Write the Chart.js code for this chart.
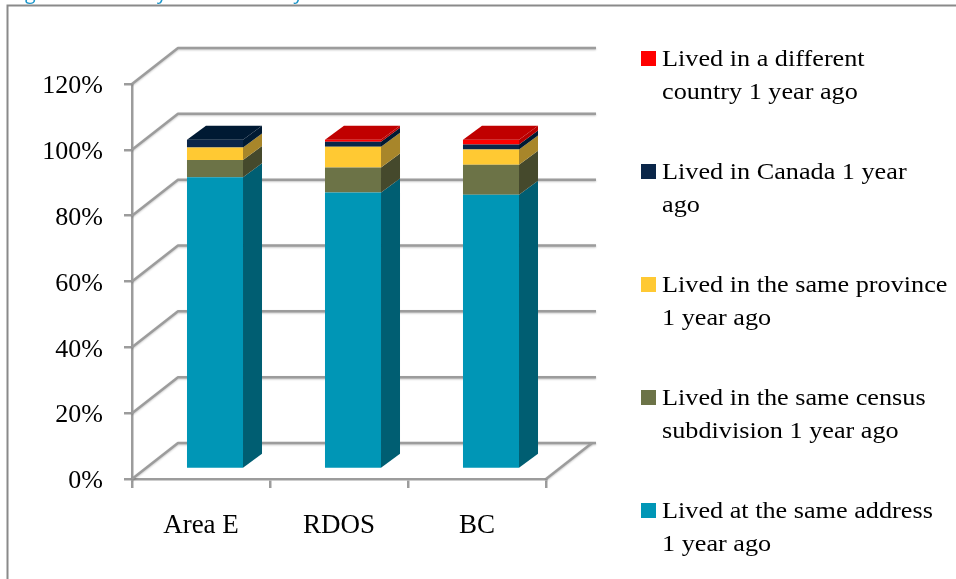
<!DOCTYPE html>
<html>
<head>
<meta charset="utf-8">
<script src="https://cdn.jsdelivr.net/npm/chart.js@4.4.1/dist/chart.umd.min.js"></script>
<style>
  html, body { margin: 0; padding: 0; background: #ffffff; }
  #wrap { width: 956px; height: 579px; position: relative; }
</style>
</head>
<body>
<div id="wrap"><canvas id="chart"></canvas></div>
<script>
// Mobility status one year earlier, share of population (%)
const categories = ['Area E', 'RDOS', 'BC'];
const sameAddress      = [88.6, 84.0, 83.3];
const sameSubdivision  = [5.3, 7.6, 9.1];
const sameProvince     = [3.8, 6.3, 4.7];
const inCanada         = [2.3, 1.5, 1.5];
const differentCountry = [0.0, 0.6, 1.4];
const yTickValues = [0, 20, 40, 60, 80, 100, 120];

const titleText = 'Figure 8: Mobility Status \u2013 Past year';

// series drawn bottom to top; legend lists them top to bottom
const series = [
  { lines: ['Lived at the same address', '1 year ago'], data: sameAddress,
    front: '#0096b6', side: '#005e72', top: '#00788f' },
  { lines: ['Lived in the same census', 'subdivision 1 year ago'], data: sameSubdivision,
    front: '#6c7347', side: '#45492c', top: '#555a37' },
  { lines: ['Lived in the same province', '1 year ago'], data: sameProvince,
    front: '#ffc933', side: '#a8862a', top: '#d6a82c' },
  { lines: ['Lived in Canada 1 year', 'ago'], data: inCanada,
    front: '#0a2649', side: '#001a33', top: '#001a33' },
  { lines: ['Lived in a different', 'country 1 year ago'], data: differentCountry,
    front: '#ff0000', side: '#b80000', top: '#c00000' }
];

const WALL_DX = 46, WALL_DY = -36;   // depth of the back wall
const BAR_DX = 14, BAR_DY = -10;     // bars sit a little behind the front plane
const BAR_DEPTH_X = 19, BAR_DEPTH_Y = -14;
const GRID_COLOR = '#9c9c9c';

const box3d = {
  id: 'box3d',
  beforeDatasetsDraw(chart) {
    const ctx = chart.ctx, a = chart.chartArea, ys = chart.scales.y;
    ctx.save();
    ctx.strokeStyle = GRID_COLOR;
    ctx.lineWidth = 2.5;
    ctx.lineJoin = 'round';
    ctx.shadowColor = 'rgba(0,0,0,0.22)';
    ctx.shadowBlur = 2;
    ctx.shadowOffsetY = 1;
    yTickValues.forEach(v => {
      const y = ys.getPixelForValue(v);
      ctx.beginPath();
      ctx.moveTo(a.left, y);
      ctx.lineTo(a.left + WALL_DX, y + WALL_DY);
      ctx.lineTo(a.right + WALL_DX + 4, y + WALL_DY);
      ctx.stroke();
    });
    // floor: right edge back to the back wall
    ctx.beginPath();
    ctx.moveTo(a.right, a.bottom);
    ctx.lineTo(a.right + WALL_DX, a.bottom + WALL_DY);
    ctx.stroke();
    ctx.restore();

    ctx.save();
    ctx.translate(BAR_DX, BAR_DY);
  },
  afterDatasetsDraw(chart) {
    const ctx = chart.ctx;
    const metas = chart.data.datasets.map((d, i) => chart.getDatasetMeta(i));
    const topIdx = categories.map((c, j) => {
      let t = -1;
      chart.data.datasets.forEach((d, i) => { if (d.data[j] > 0) t = i; });
      return t;
    });
    metas.forEach((meta, i) => {
      const ds = chart.data.datasets[i];
      meta.data.forEach((el, j) => {
        if (!(ds.data[j] > 0)) return;
        const p = el.getProps(['x', 'y', 'base', 'width'], true);
        const left = p.x - p.width / 2, right = p.x + p.width / 2;
        // side face
        ctx.fillStyle = ds.sideColor;
        ctx.beginPath();
        ctx.moveTo(right, p.y);
        ctx.lineTo(right + BAR_DEPTH_X, p.y + BAR_DEPTH_Y);
        ctx.lineTo(right + BAR_DEPTH_X, p.base + BAR_DEPTH_Y);
        ctx.lineTo(right, p.base);
        ctx.closePath();
        ctx.fill();
        // top face on the highest segment
        if (topIdx[j] === i) {
          ctx.fillStyle = ds.topColor;
          ctx.beginPath();
          ctx.moveTo(left, p.y);
          ctx.lineTo(left + BAR_DEPTH_X, p.y + BAR_DEPTH_Y);
          ctx.lineTo(right + BAR_DEPTH_X, p.y + BAR_DEPTH_Y);
          ctx.lineTo(right, p.y);
          ctx.closePath();
          ctx.fill();
        }
      });
    });
    ctx.restore();
  },
  afterDraw(chart) {
    const ctx = chart.ctx;
    ctx.save();
    // outer frame
    ctx.strokeStyle = '#8a8a8a';
    ctx.lineWidth = 2;
    ctx.beginPath();
    ctx.moveTo(7.5, 600);
    ctx.lineTo(7.5, 5.5);
    ctx.lineTo(960, 5.5);
    ctx.stroke();

    // caption sitting above the frame: size it so "Fi|g" starts at x=25
    // and the "y" of "Mobility" starts near x=157
    ctx.textBaseline = 'alphabetic';
    ctx.textAlign = 'left';
    ctx.font = '20px "Open Sans"';
    const span = ctx.measureText('Figure 8: Mobilit').width - ctx.measureText('Fi').width;
    const size = 20 * 132 / span;
    ctx.font = size.toFixed(2) + 'px "Open Sans"';
    const x0 = 25 - ctx.measureText('Fi').width;
    ctx.fillStyle = '#1b95c9';
    ctx.fillText(titleText, x0, -1);

    // legend
    const items = chart.data.datasets.slice().reverse();
    ctx.font = '23px "Liberation Serif"';
    items.forEach((ds, i) => {
      const sq = 51 + i * 113;
      ctx.fillStyle = ds.backgroundColor;
      ctx.fillRect(641, sq, 15, 15);
      ctx.fillStyle = '#000000';
      ds.lines.forEach((line, k) => {
        ctx.save();
        ctx.translate(662, sq + 15 + k * 32.7);
        ctx.scale(1.14, 1);
        ctx.fillText(line, 0, 0);
        ctx.restore();
      });
    });
    ctx.restore();
  }
};

const chart = new Chart(document.getElementById('chart'), {
  type: 'bar',
  data: {
    labels: categories,
    datasets: series.map(s => ({
      label: s.lines.join(' '),
      lines: s.lines,
      data: s.data,
      backgroundColor: s.front,
      sideColor: s.side,
      topColor: s.top,
      borderWidth: 0,
      barPercentage: 0.406,
      categoryPercentage: 1.0
    }))
  },
  options: {
    responsive: true,
    maintainAspectRatio: false,
    animation: false,
    devicePixelRatio: 1,
    layout: { padding: { left: 0, top: 84, right: 410, bottom: 0 } },
    plugins: {
      legend: { display: false },
      title: { display: false },
      tooltip: { enabled: false }
    },
    scales: {
      x: {
        stacked: true,
        offset: true,
        grid: {
          offset: true,
          drawOnChartArea: false,
          drawTicks: true,
          tickLength: 9,
          color: GRID_COLOR,
          lineWidth: 2.5
        },
        border: { color: GRID_COLOR, width: 2.5 },
        ticks: {
          color: '#000000',
          padding: 22,
          font: { family: 'Liberation Serif', size: 27 }
        },
        afterFit(scale) { scale.height = 100; }
      },
      y: {
        stacked: true,
        min: 0,
        max: 120,
        grid: {
          drawOnChartArea: false,
          drawTicks: true,
          tickLength: 8,
          color: GRID_COLOR,
          lineWidth: 2.5
        },
        border: { color: GRID_COLOR, width: 2.5 },
        ticks: {
          stepSize: 20,
          color: '#000000',
          padding: 21,
          labelOffset: 2.5,
          font: { family: 'Liberation Serif', size: 26 },
          callback: v => v + '%'
        },
        afterFit(scale) { scale.width = 132; }
      }
    }
  },
  plugins: [box3d]
});
</script>
</body>
</html>
